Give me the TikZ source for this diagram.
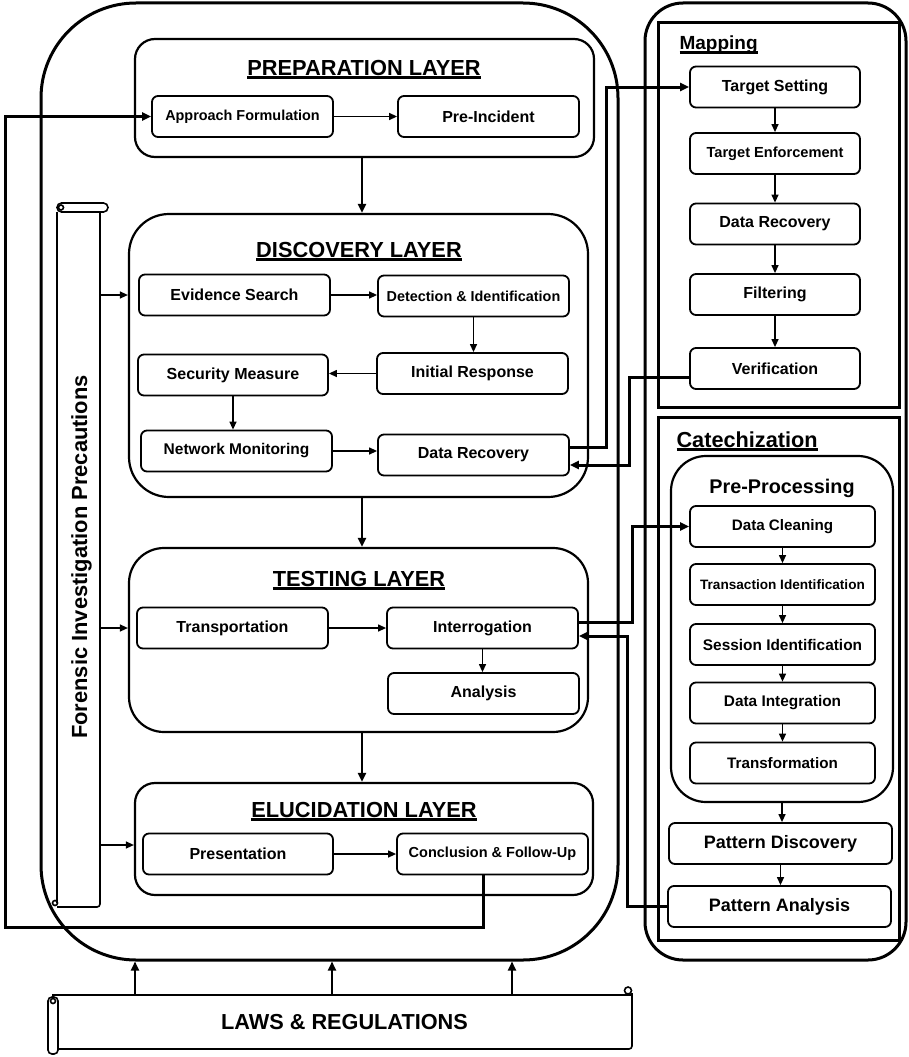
\documentclass[tikz,border=0pt]{standalone}
\usepackage{fontspec}
\setmainfont{Liberation Sans}
\usetikzlibrary{arrows.meta}
\newcommand\fs[1]{\fontsize{#1}{#1}\selectfont}
\newcommand\ulb[1]{\setbox0\hbox{#1}\rlap{\copy0}\raisebox{-4pt}{\rule{\wd0}{3pt}}}

\begin{document}
\begin{tikzpicture}[x=1pt,y=-1pt,
  box/.style={draw,rounded corners=6pt,line width=1.8pt,minimum height=41pt,inner sep=0pt,align=center,font=\bfseries\fs{16}},
  layer/.style={draw,line width=2.2pt,inner sep=0pt},
  frm/.style={draw,line width=3pt,inner sep=0pt},
  ttl/.style={anchor=base,font=\bfseries\fs{21.8}},
  arr/.style={line width=1.3pt,-{Triangle[length=8pt,width=7pt]}},
  larr/.style={line width=2.2pt,-{Triangle[length=9pt,width=8pt]}},
  fat/.style={line width=3pt,-{Triangle[length=9pt,width=8pt]}},
  scrl/.style={line width=1.6pt}]
\useasboundingbox (0,0) rectangle (908,1057);

\node[frm,rounded corners=95pt,minimum width=577pt,minimum height=957pt] (frame) at (329.5,481.5) {};
\node[frm,rounded corners=38pt,minimum width=261pt,minimum height=957pt] (rframe) at (775.5,481.5) {};
\node[frm,minimum width=241pt,minimum height=384pt] (map) at (778.5,215) {};
\node[frm,minimum width=241pt,minimum height=523pt] (cat) at (778.5,678.5) {};
\coordinate (mid) at (362,0);

\node[layer,rounded corners=20pt,minimum width=459pt,minimum height=118pt] (prep) at (364.5,98) {};
\node[ttl] (preptitle) at (364,75) {\ulb{PREPARATION LAYER}};
\node[box,minimum width=181pt] (af) at (242.5,116.5) {\fs{14.4}Approach Formulation};
\node[box,minimum width=181pt] (pi) at (488.5,116.5) {Pre-Incident};
\draw[arr] (af.east) -- (af.east -| pi.west);

\node[layer,rounded corners=40pt,minimum width=459pt,minimum height=283pt] (disc) at (358.5,355.5) {};
\node[ttl] (disctitle) at (359,257) {\ulb{DISCOVERY LAYER}};
\node[box,minimum width=191pt] (es) at (234.5,295) {Evidence Search};
\node[box,minimum width=191pt] (di) at (473.5,296) {\fs{14.4}Detection \& Identification};
\node[box,minimum width=191pt] (ir) at (472.5,373.5) {Initial Response};
\node[box,minimum width=190pt] (sm) at (233,375) {Security Measure};
\node[box,minimum width=191pt] (nm) at (236.5,451) {\fs{15.5}Network Monitoring};
\node[box,minimum width=191pt] (dr) at (473.5,455) {Data Recovery};
\draw[arr] (es.east) -- (es.east -| di.west);
\draw[arr] (di.south) -- (di.south |- ir.north);
\draw[arr] (ir.west) -- (ir.west -| sm.east);
\draw[arr] (sm.south) -- (sm.south |- nm.north);
\draw[arr] (nm.east) -- (nm.east -| dr.west);

\node[layer,rounded corners=35pt,minimum width=459pt,minimum height=184pt] (test) at (358.5,640) {};
\node[ttl] (testtitle) at (359,586) {\ulb{TESTING LAYER}};
\node[box,minimum width=191pt] (tr) at (232.5,628) {Transportation};
\node[box,minimum width=191pt] (ig) at (482.5,628) {Interrogation};
\node[box,minimum width=191pt] (an) at (483.5,693.5) {Analysis};
\draw[arr] (tr.east) -- (tr.east -| ig.west);
\draw[arr] (ig.south) -- (ig.south |- an.north);

\node[layer,rounded corners=20pt,minimum width=458pt,minimum height=112pt] (eluc) at (364,839) {};
\node[ttl] (eluctitle) at (364,817) {\ulb{ELUCIDATION LAYER}};
\node[box,minimum width=190pt] (pr) at (238,854) {Presentation};
\node[box,minimum width=191pt] (cf) at (492.5,854) {\fs{14.5}Conclusion \& Follow-Up};
\draw[arr] (pr.east) -- (pr.east -| cf.west);

\draw[larr] (prep.south -| mid) -- (disc.north -| mid);
\draw[larr] (disc.south -| mid) -- (test.north -| mid);
\draw[larr] (test.south -| mid) -- (eluc.north -| mid);

\node[inner sep=0pt,minimum width=43pt,minimum height=699pt] (fipbody) at (78.5,557.5) {};
\node[rotate=90,anchor=base,font=\bfseries\fs{21.9}] (fip) at (87,557) {Forensic Investigation Precautions};
\draw[scrl,rounded corners=4.5pt] (57,203) rectangle (108,212);
\draw[scrl] (61,207.5) circle (2.5pt);
\draw[scrl] (57,212) -- (57,903);
\draw[scrl,rounded corners=3pt] (100,212) -- (100,907) -- (57,907);
\draw[scrl] (55,903) circle (2.5pt);
\draw[arr] (fipbody.east |- es.west) -- (disc.west |- es.west);
\draw[arr] (fipbody.east |- tr.west) -- (test.west |- tr.west);
\draw[arr] (fipbody.east |- 0,845) -- (eluc.west |- 0,845);

\node[inner sep=0pt,minimum width=575pt,minimum height=54pt,font=\bfseries\fs{21.7}] (laws) at (344.5,1022) {LAWS \& REGULATIONS};
\draw[scrl] (52,995) -- (632,995);
\draw[scrl] (628,990.5) circle (3.5pt);
\draw[scrl,rounded corners=3pt] (632,993) -- (632,1049) -- (58,1049);
\draw[scrl,rounded corners=4pt] (48,997) rectangle (58,1054);
\draw[scrl] (53,1001) circle (2.5pt);
\draw[larr,line width=2pt] (laws.north -| 135,0) -- (frame.south -| 135,0);
\draw[larr,line width=2pt] (laws.north -| 332,0) -- (frame.south -| 332,0);
\draw[larr,line width=2pt] (laws.north -| 512,0) -- (frame.south -| 512,0);

\node[anchor=base west,font=\bfseries\fs{19}] (maptitle) at (676,50) {\ulb{Mapping}};
\node[box,minimum width=170pt] (ts) at (775,87) {Target Setting};
\node[box,minimum width=170pt] (te) at (775,153.5) {\fs{14.6}Target Enforcement};
\node[box,minimum width=170pt] (mdr) at (775,224) {Data Recovery};
\node[box,minimum width=170pt] (fi) at (775,294.5) {Filtering};
\node[box,minimum width=170pt] (ve) at (775,368.5) {Verification};
\draw[arr] (ts.south) -- (te.north);
\draw[arr] (te.south) -- (mdr.north);
\draw[arr] (mdr.south) -- (fi.north);
\draw[arr] (fi.south) -- (ve.north);

\node[anchor=base west,font=\bfseries\fs{21.7}] (cattitle) at (673,447) {\ulb{Catechization}};
\node[layer,rounded corners=35pt,minimum width=222pt,minimum height=346pt] (pp) at (782,629) {};
\node[anchor=base,font=\bfseries\fs{19.8}] (pptitle) at (782,493) {Pre-Processing};
\node[box,minimum width=185pt] (dc) at (782.5,526.5) {\fs{15.2}Data Cleaning};
\node[box,minimum width=185pt] (ti) at (782.5,584.5) {\fs{13.6}Transaction Identification};
\node[box,minimum width=185pt] (si) at (782.5,644.5) {\fs{15.4}Session Identification};
\node[box,minimum width=185pt] (dint) at (782.5,703) {\fs{15.4}Data Integration};
\node[box,minimum width=185pt] (tf) at (782.5,763) {\fs{15.2}Transformation};
\node[box,minimum width=223pt] (pd) at (780.5,843.5) {\fs{18}Pattern Discovery};
\node[box,minimum width=223pt] (pa) at (779.5,906.5) {\fs{18}Pattern Analysis};
\draw[arr] (dc.south) -- (ti.north);
\draw[arr] (ti.south) -- (si.north);
\draw[arr] (si.south) -- (dint.north);
\draw[arr] (dint.south) -- (tf.north);
\draw[arr] (pp.south) -- (pp.south |- pd.north);
\draw[arr] (pd.south) -- (pd.south |- pa.north);

\draw[fat] ([yshift=8pt]dr.east) -- ++(37,0) |- (ts.west);
\draw[fat] ([yshift=-8.5pt]ve.west) -- ++(-60,0) |- ([yshift=-10pt]dr.east);
\draw[fat] ([yshift=6pt]ig.east) -- ++(54,0) |- (dc.west);
\draw[fat] (pa.west) -- ++(-40,0) |- ([yshift=-8pt]ig.east);
\coordinate (fb) at (5,927);
\draw[fat] ([xshift=-9.5pt]cf.south) |- (fb) |- (af.west);
\end{tikzpicture}
\end{document}
